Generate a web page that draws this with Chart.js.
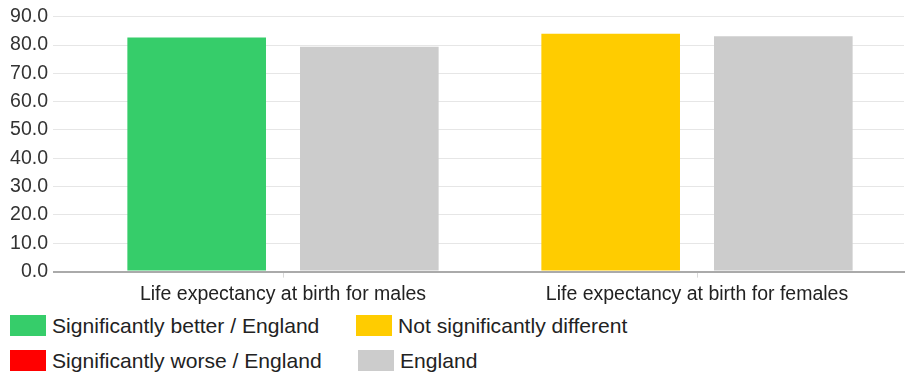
<!DOCTYPE html>
<html>
<head>
<meta charset="utf-8">
<script src="https://cdn.jsdelivr.net/npm/chart.js@4.4.1/dist/chart.umd.min.js"></script>
<style>
  html, body { margin: 0; padding: 0; background: #fff; }
  #wrap { position: relative; width: 907px; height: 374px; font-family: "Liberation Sans", Arial, sans-serif; }
  #cv { position: absolute; left: 0; top: 0; }
  .lg { position: absolute; height: 21px; display: flex; align-items: center; color: #222; font-size: 21.1px; white-space: nowrap; }
  .lg span.box { display: inline-block; width: 36px; height: 21px; margin-right: 6px; }
</style>
</head>
<body>
<div id="wrap">
  <canvas id="cv" width="907" height="312"></canvas>
  <div id="legend"></div>
</div>
<script>
const categories = ["Life expectancy at birth for males", "Life expectancy at birth for females"];
const areaValues = [82.7, 84.0];
const englandValues = [79.4, 83.1];
const areaColors = ["#36cd6a", "#ffcc00"];
const englandColor = "#cccccc";
const yTicks = [0, 10, 20, 30, 40, 50, 60, 70, 80, 90];
const legendItems = [
  { label: "Significantly better / England", color: "#36cd6a" },
  { label: "Not significantly different", color: "#ffcc00" },
  { label: "Significantly worse / England", color: "#ff0000" },
  { label: "England", color: "#cccccc" }
];

const legendPos = [
  { left: 10, top: 315 },
  { left: 356, top: 315 },
  { left: 10, top: 350 },
  { left: 358, top: 350 }
];
const legendEl = document.getElementById('legend');
legendItems.forEach((it, i) => {
  const d = document.createElement('div');
  d.className = 'lg';
  d.style.left = legendPos[i].left + 'px';
  d.style.top = legendPos[i].top + 'px';
  const b = document.createElement('span');
  b.className = 'box';
  b.style.background = it.color;
  d.appendChild(b);
  d.appendChild(document.createTextNode(it.label));
  legendEl.appendChild(d);
});

const ctx = document.getElementById('cv').getContext('2d');
new Chart(ctx, {
  type: 'bar',
  data: {
    labels: categories,
    datasets: [
      { label: "Area", data: areaValues, backgroundColor: areaColors, borderWidth: 0,
        categoryPercentage: 0.834, barPercentage: 0.803 },
      { label: "England", data: englandValues, backgroundColor: englandColor, borderWidth: 0,
        categoryPercentage: 0.834, barPercentage: 0.803 }
    ]
  },
  options: {
    responsive: false,
    animation: false,
    layout: { padding: { left: 10, right: 3, top: 9.5, bottom: 1 } },
    plugins: { legend: { display: false }, tooltip: { enabled: false } },
    scales: {
      x: {
        offset: true,
        grid: { offset: false, drawOnChartArea: false, drawTicks: true, tickLength: 6, color: '#d9d9d9' },
        border: { display: true, color: '#aaaaaa', width: 2 },
        ticks: { color: '#222', font: { family: '"Liberation Sans", Arial, sans-serif', size: 19.5 }, padding: 5, maxRotation: 0 }
      },
      y: {
        min: 0, max: 90,
        afterBuildTicks: (scale) => { scale.ticks = yTicks.map(v => ({ value: v })); },
        afterFit: (scale) => { scale.width = 66; },
        grid: {
          color: (c) => (c.tick && c.tick.value === 0 ? '#aaaaaa' : '#e6e6e6'),
          lineWidth: (c) => (c.tick && c.tick.value === 0 ? 2 : 1),
          tickLength: 23, drawTicks: true
        },
        border: { display: false },
        ticks: {
          color: '#333',
          padding: 5,
          font: { family: '"Liberation Sans", Arial, sans-serif', size: 19.5 },
          callback: (v) => Number(v).toFixed(1)
        }
      }
    }
  }
});
</script>
</body>
</html>
